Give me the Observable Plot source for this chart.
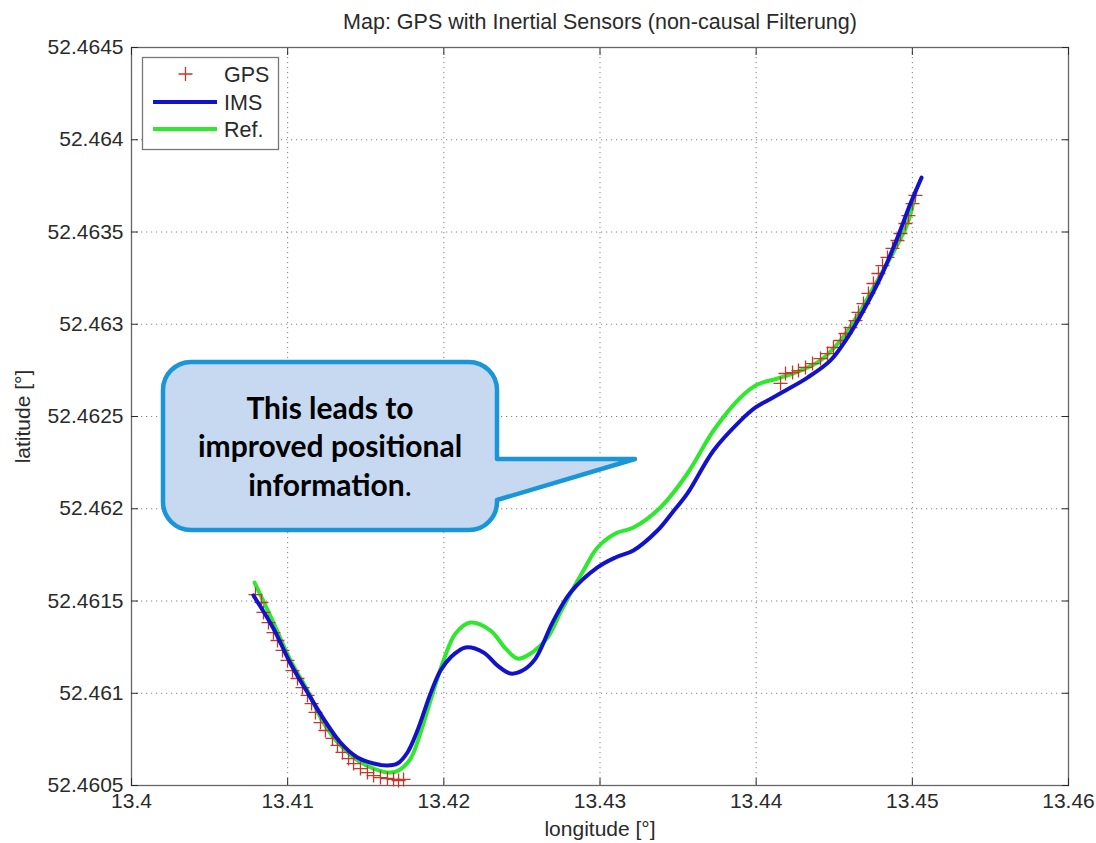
<!DOCTYPE html>
<html><head><meta charset="utf-8">
<script src="https://cdn.jsdelivr.net/npm/d3@7"></script>
<script src="https://cdn.jsdelivr.net/npm/@observablehq/plot@0.6"></script>
<style>
body{margin:0;background:#fff;}
#wrap{position:relative;width:1096px;height:843px;overflow:hidden;}
#wrap svg{position:absolute;left:0;top:0;}
</style></head><body><div id="wrap"></div>
<script>
const titleText = "Map: GPS with Inertial Sensors (non-causal Filterung)";
const xLabel = "longitude [°]";
const yLabel = "latitude [°]";
const xTicks = [13.40, 13.41, 13.42, 13.43, 13.44, 13.45, 13.46];
const yTicks = [52.4605, 52.461, 52.4615, 52.462, 52.4625, 52.463, 52.4635, 52.464, 52.4645];
const seriesNames = ["GPS", "IMS", "Ref."];
const calloutLines = ["This leads to", "improved positional", "information"];

const imsLon = [13.40781, 13.40909, 13.41018, 13.41127, 13.41229, 13.41338, 13.41447, 13.41550, 13.41639, 13.41703, 13.41767, 13.41831, 13.41915, 13.41979, 13.42043, 13.42139, 13.42254, 13.42344, 13.42427, 13.42504, 13.42587, 13.42696, 13.42811, 13.42984, 13.43099, 13.43214, 13.43368, 13.43464, 13.43560, 13.43727, 13.43900, 13.43996, 13.44073, 13.44188, 13.44329, 13.44476, 13.44585, 13.44687, 13.44796, 13.44905, 13.44988, 13.45059];
const imsLat = [52.461530, 52.461351, 52.461161, 52.461004, 52.460863, 52.460733, 52.460652, 52.460619, 52.460608, 52.460619, 52.460679, 52.460798, 52.460999, 52.461123, 52.461194, 52.461248, 52.461221, 52.461150, 52.461107, 52.461123, 52.461188, 52.461383, 52.461546, 52.461682, 52.461736, 52.461774, 52.461882, 52.461980, 52.462083, 52.462316, 52.462478, 52.462549, 52.462587, 52.462641, 52.462711, 52.462804, 52.462928, 52.463075, 52.463253, 52.463470, 52.463654, 52.463795];

const refLon = [13.40788, 13.40909, 13.41018, 13.41127, 13.41229, 13.41338, 13.41447, 13.41550, 13.41658, 13.41710, 13.41787, 13.41851, 13.41915, 13.41998, 13.42075, 13.42171, 13.42299, 13.42395, 13.42472, 13.42555, 13.42664, 13.42747, 13.42811, 13.42894, 13.42984, 13.43099, 13.43214, 13.43387, 13.43560, 13.43727, 13.43900, 13.44008, 13.44137, 13.44284, 13.44412, 13.44540, 13.44649, 13.44751, 13.44860, 13.44969, 13.45020];
const refLat = [52.461600, 52.461383, 52.461178, 52.461015, 52.460841, 52.460717, 52.460636, 52.460592, 52.460570, 52.460581, 52.460646, 52.460787, 52.460961, 52.461178, 52.461324, 52.461383, 52.461340, 52.461243, 52.461188, 52.461215, 52.461302, 52.461438, 52.461541, 52.461665, 52.461790, 52.461866, 52.461898, 52.462007, 52.462191, 52.462424, 52.462603, 52.462673, 52.462706, 52.462749, 52.462804, 52.462912, 52.463047, 52.463199, 52.463362, 52.463546, 52.463714];

const gpsLon = [13.40794, 13.40832, 13.40845, 13.40877, 13.40909, 13.40935, 13.40967, 13.40999, 13.41031, 13.41063, 13.41095, 13.41127, 13.41153, 13.41178, 13.41210, 13.41242, 13.41287, 13.41319, 13.41351, 13.41390, 13.41422, 13.41466, 13.41511, 13.41550, 13.41594, 13.41639, 13.41678, 13.41710, 13.41742,
  13.44156, 13.44188, 13.44233, 13.44271, 13.44316, 13.44361, 13.44412, 13.44457, 13.44495, 13.44540, 13.44572, 13.44604, 13.44636, 13.44655, 13.44687, 13.44719, 13.44751, 13.44783, 13.44809, 13.44841, 13.44873, 13.44905, 13.44924, 13.44956, 13.44975, 13.45001, 13.45020];
const gpsLat = [52.461535, 52.461492, 52.461438, 52.461383, 52.461329, 52.461286, 52.461232, 52.461178, 52.461123, 52.461080, 52.461031, 52.460988, 52.460944, 52.460896, 52.460841, 52.460798, 52.460755, 52.460717, 52.460679, 52.460646, 52.460619, 52.460592, 52.460570, 52.460554, 52.460543, 52.460538, 52.460533, 52.460527, 52.460533,
  52.462679, 52.462733, 52.462738, 52.462749, 52.462766, 52.462787, 52.462814, 52.462841, 52.462874, 52.462912, 52.462950, 52.462982, 52.463020, 52.463064, 52.463112, 52.463167, 52.463221, 52.463275, 52.463318, 52.463362, 52.463411, 52.463454, 52.463492, 52.463546, 52.463589, 52.463654, 52.463698];

const ims = imsLon.map((lon, i) => ({lon, lat: imsLat[i]}));
const ref = refLon.map((lon, i) => ({lon, lat: refLat[i]}));
const gps = gpsLon.map((lon, i) => ({lon, lat: gpsLat[i]}));

const colors = {GPS: "#c8352a", IMS: "#1212cc", "Ref.": "#2ee82e"};

const plusSymbol = {
  draw(ctx, size) {
    const r = Math.sqrt(size / Math.PI);
    ctx.moveTo(-r, 0); ctx.lineTo(r, 0);
    ctx.moveTo(0, -r); ctx.lineTo(0, r);
  }
};

const font = "'Liberation Sans', Arial, sans-serif";
const textColor = "#2a2a2a";
const gridStyle = {stroke: "#555", strokeOpacity: 0.75, strokeDasharray: "1.2,3.8", strokeWidth: 1};

const chart = Plot.plot({
  width: 1096, height: 843,
  marginLeft: 131, marginRight: 28, marginTop: 47, marginBottom: 58,
  style: {fontFamily: font, fontSize: "21px", color: textColor, background: "white", overflow: "visible"},
  x: {domain: [13.40, 13.46]},
  y: {domain: [52.4605, 52.4645]},
  marks: [
    Plot.gridX(xTicks, gridStyle),
    Plot.gridY(yTicks, gridStyle),
    Plot.frame({stroke: "#666", strokeWidth: 1.3}),
    Plot.axisX(xTicks, {anchor: "bottom", tickSize: -7, tickPadding: 15, tickFormat: d => String(+d.toFixed(2)), label: xLabel, labelAnchor: "center", labelOffset: 50, labelArrow: "none", fontSize: 21}),
    Plot.axisX(xTicks, {anchor: "top", tickSize: -7, tickFormat: () => "", label: null}),
    Plot.axisY(yTicks, {anchor: "left", tickSize: -7, tickPadding: 15, tickFormat: d => String(+d.toFixed(4)), label: yLabel, labelAnchor: "center", labelOffset: 116, labelArrow: "none", fontSize: 21}),
    Plot.axisY(yTicks, {anchor: "right", tickSize: -7, tickFormat: () => "", label: null}),
    Plot.line(ref, {x: "lon", y: "lat", stroke: colors["Ref."], strokeWidth: 4, curve: "catmull-rom"}),
    Plot.dot(gps, {x: "lon", y: "lat", symbol: plusSymbol, r: 7, stroke: colors.GPS, strokeWidth: 1.3, fill: "none"}),
    Plot.line(ims, {x: "lon", y: "lat", stroke: colors.IMS, strokeWidth: 4, curve: "catmull-rom"}),
    Plot.text([titleText], {text: d => d, frameAnchor: "top", lineAnchor: "middle", dy: -25, fontSize: 21.5, fill: textColor})
  ]
});
document.getElementById("wrap").appendChild(chart);

// overlay: legend and callout
const ov = d3.select("#wrap").append("svg")
  .attr("width", 1096).attr("height", 843)
  .style("pointer-events", "none");

// legend
const lg = ov.append("g");
lg.append("rect").attr("x", 142.5).attr("y", 57.5).attr("width", 136).attr("height", 92)
  .attr("fill", "white").attr("stroke", "#777").attr("stroke-width", 1.3);
const rows = [74, 102, 129];
seriesNames.forEach((name, i) => {
  const y = rows[i];
  if (name === "GPS") {
    lg.append("path").attr("d", `M${178.5},${y}h14M${185.5},${y - 7}v14`)
      .attr("stroke", colors.GPS).attr("stroke-width", 1.3).attr("fill", "none");
  } else {
    lg.append("line").attr("x1", 153).attr("x2", 217).attr("y1", y).attr("y2", y)
      .attr("stroke", colors[name]).attr("stroke-width", 4);
  }
  lg.append("text").attr("x", 224).attr("y", y).attr("dy", "0.36em")
    .attr("font-family", font).attr("font-size", 21.5).attr("fill", textColor).text(name);
});

// callout
const L = 163, T = 362, R = 497, B = 530, rr = 28;
const tipX = 635, tipY = 459, baseY = 500;
const p = d3.path();
p.moveTo(L + rr, T);
p.lineTo(R - rr, T);
p.arcTo(R, T, R, T + rr, rr);
p.lineTo(R, tipY);
p.lineTo(tipX, tipY);
p.lineTo(R, baseY);
p.lineTo(R, B - rr);
p.arcTo(R, B, R - rr, B, rr);
p.lineTo(L + rr, B);
p.arcTo(L, B, L, B - rr, rr);
p.lineTo(L, T + rr);
p.arcTo(L, T, L + rr, T, rr);
p.closePath();
ov.append("path").attr("d", p.toString())
  .attr("fill", "#c6d9f1").attr("stroke", "#1a96d8").attr("stroke-width", 4.5).attr("stroke-linejoin", "round");
const baselines = [419, 457, 496];
calloutLines.forEach((t, i) => {
  const tx = ov.append("text").attr("x", 330).attr("y", baselines[i]).attr("text-anchor", "middle")
    .attr("font-family", "Lato, 'Open Sans', sans-serif").attr("font-weight", "bold").attr("font-size", 30).attr("fill", "#000");
  tx.append("tspan").text(t);
  if (i === calloutLines.length - 1) tx.append("tspan").attr("font-weight", "normal").text(".");
});
</script>
</body></html>
